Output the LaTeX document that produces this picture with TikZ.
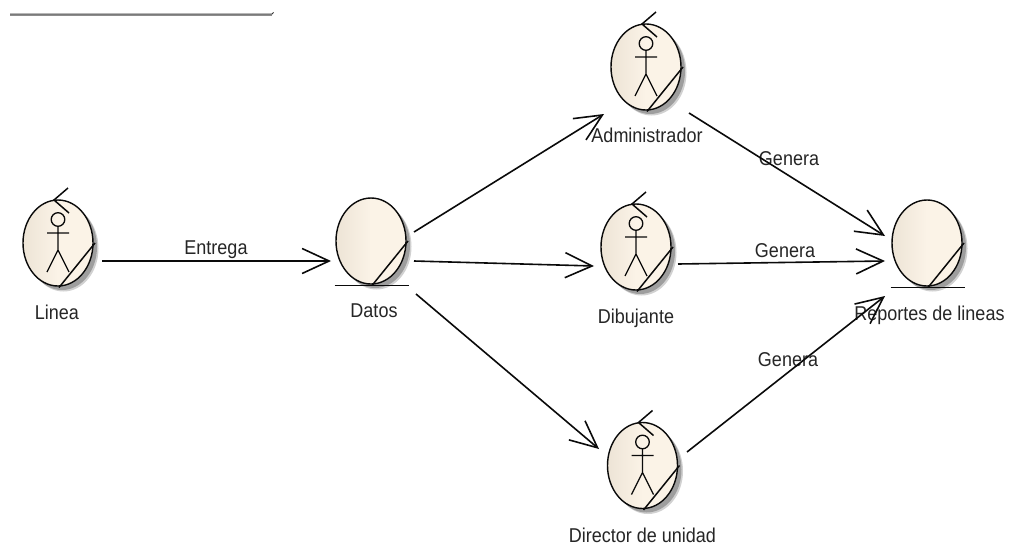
\documentclass[tikz,border=0pt]{standalone}
\usepackage{fontspec}
\setmainfont[FakeStretch=0.90]{Liberation Sans}
\usetikzlibrary{shapes.geometric,arrows.meta,calc}
\definecolor{inkc}{HTML}{0A0A0A}
\definecolor{bodyl}{HTML}{EDE4D6}
\definecolor{bodyr}{HTML}{FBF3E7}
\tikzset{
  x=1pt,y=-1pt,
  obj/.style={ellipse,draw=inkc,line width=1.4pt,minimum width=70pt,minimum height=86pt,inner sep=0pt,outer sep=0pt,left color=bodyl,right color=bodyr,middle color=bodyr},
  mark line/.style={draw=inkc,line width=1.5pt},
  conn/.style={draw=inkc,line width=1.6pt,-{Straight Barb[length=27pt,width=25pt,line width=1.6pt]}},
  lab/.style={font=\fontsize{20}{22}\selectfont,text=black!85,inner sep=0pt,anchor=base},
}
% shadow + ellipse body
\newcommand\objbody[3]{%
  \fill[black!18] (#2+5.5,#3+5.5) ellipse [x radius=35,y radius=43];
  \fill[black!38] (#2+4,#3+4) ellipse [x radius=35,y radius=43];
  \node[obj] (#1) at (#2,#3) {};
  \draw[mark line] ([shift={(1,44.5)}]#1.center) -- ([shift={(37,0)}]#1.center);
}
\newcommand\actorfig[1]{%
  \draw[mark line] ([shift={(10,-55)}]#1.center) -- ([shift={(-4,-43)}]#1.center) -- ([shift={(11,-30)}]#1.center);
  \draw[line width=1.3pt,draw=inkc] ([shift={(0,-23.5)}]#1.center) circle [radius=6.8];
  \draw[line width=1.3pt,draw=inkc] ([shift={(0,-17)}]#1.center) -- ([shift={(0,7)}]#1.center)
    ([shift={(-11,-10)}]#1.center) -- ([shift={(11,-10)}]#1.center)
    ([shift={(-11,29)}]#1.center) -- ([shift={(0,7)}]#1.center) -- ([shift={(11,29)}]#1.center);
}
\newcommand\baseline[1]{%
  \draw[mark line] ([shift={(-36.5,44.5)}]#1.center) -- ([shift={(37.5,44.5)}]#1.center);
}
\begin{document}
\begin{tikzpicture}
\useasboundingbox (0,0) rectangle (1009,546);
\fill[white] (0,0) rectangle (1009,546);
% top fragment
\coordinate (fragl) at (10,14);
\coordinate (fragr) at (272,14);
\draw[draw=black!45,line width=1pt] ([yshift=-1pt]fragl) -- ([yshift=-1pt]fragr);
\draw[draw=black!80,line width=1pt] (fragl) -- (fragr) -- ++(1.5,-1.5);
% objects
\objbody{lin}{58}{243}
\actorfig{lin}
\objbody{dat}{371}{241}
\baseline{dat}
\objbody{adm}{646}{67}
\actorfig{adm}
\objbody{dib}{636}{247}
\actorfig{dib}
\objbody{dir}{642.5}{465.5}
\actorfig{dir}
\objbody{rep}{927}{243}
\baseline{rep}
% labels
\node[lab] (tlin) at (57,319) {Linea};
\node[lab] (tdat) at (374,317) {Datos};
\node[lab] (tadm) at (647,142.5) {Administrador};
\node[lab] (tdib) at (636,323) {Dibujante};
\node[lab] (tdir) at (642.5,542) {Director de unidad};
\node[lab] (trep) at (929.5,320) {Reportes de lineas};
\node[lab] (lentrega) at (216,254) {Entrega};
\node[lab] (lg1) at (789,165) {Genera};
\node[lab] (lg2) at (785,257) {Genera};
\node[lab] (lg3) at (788,366) {Genera};
% connectors
\draw[conn] ([shift={(44,18)}]lin.center) -- ([shift={(-40,20)}]dat.center);
\draw[conn] ([shift={(43,-9)}]dat.center) -- ([shift={(-42,47)}]adm.center);
\draw[conn] ([shift={(43,20)}]dat.center) -- ([shift={(-42,19)}]dib.center);
\draw[conn] ([shift={(45,53)}]dat.center) -- ([shift={(-43.5,-16.5)}]dir.center);
\draw[conn] ([shift={(43,46)}]adm.center) -- ([shift={(-42,-7)}]rep.center);
\draw[conn] ([shift={(42,17)}]dib.center) -- ([shift={(-42,18)}]rep.center);
\draw[conn] ([shift={(44.5,-13.5)}]dir.center) -- ([shift={(-42,53)}]rep.center);
\end{tikzpicture}
\end{document}
